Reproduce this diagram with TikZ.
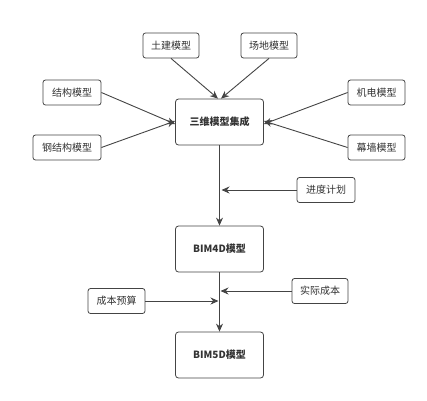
\documentclass[tikz,border=0pt]{standalone}
\usepackage{fontspec}
\setmainfont{Noto Sans CJK SC}
\usepackage{tikz}
\usetikzlibrary{arrows.meta,positioning}
\definecolor{linegray}{HTML}{444444}
\definecolor{textgray}{HTML}{333333}

\tikzset{
  part/.style={draw=linegray, line width=0.8pt, rounded corners=2.5pt, fill=white, text=textgray,
    font=\fontsize{10}{12}\selectfont, minimum height=25pt, inner xsep=5pt},
  stage/.style={draw=linegray, line width=0.8pt, rounded corners=3pt, fill=white, text=textgray,
    font=\fontsize{10}{12}\selectfont\bfseries, minimum width=88pt, minimum height=46pt},
  flow/.style={draw=linegray, line width=0.9pt, -{Stealth[length=8pt,width=7pt]}}
}

\begin{document}
\begin{tikzpicture}[x=1pt,y=-1pt]
    \useasboundingbox (0,0) rectangle (427,400);

    % 主流程
    \node[stage] (S1) at (219.5,122) {三维模型集成};
    \node[stage] (S2) at (219.5,249) {BIM4D模型};
    \node[stage] (S3) at (219.5,355) {BIM5D模型};

    % 各专业模型
    \node[part, minimum width=56pt] (M1) at (171,45.5) {土建模型};
    \node[part, minimum width=56pt] (M2) at (269,45.5) {场地模型};
    \node[part, minimum width=58pt] (M3) at (72,92.5) {结构模型};
    \node[part, minimum width=68pt] (M4) at (67,147.5) {钢结构模型};
    \node[part, minimum width=57pt] (M5) at (376.5,92.5) {机电模型};
    \node[part, minimum width=57pt] (M6) at (376.5,147.5) {幕墙模型};

    % 附加信息
    \node[part, minimum width=58pt] (P1) at (326,190) {进度计划};
    \node[part, minimum width=56pt] (C1) at (320,291) {实际成本};
    \node[part, minimum width=57pt] (C2) at (116.5,301) {成本预算};

    % 汇入点
    \coordinate (J1) at (S1.south |- P1.west);
    \coordinate (J2) at (S2.south |- C1.west);
    \coordinate (J3) at (S2.south |- C2.east);

    \draw[flow] (M1.south) -- ([xshift=-1.5pt]S1.north);
    \draw[flow] (M2.south) -- ([xshift=1.5pt]S1.north);
    \draw[flow] (M3.east) -- ([yshift=-2pt]S1.west);
    \draw[flow] (M4.east) -- ([yshift=1pt]S1.west);
    \draw[flow] (M5.west) -- ([yshift=-2pt]S1.east);
    \draw[flow] (M6.west) -- ([yshift=1pt]S1.east);

    \draw[flow] (S1.south) -- (S2.north);
    \draw[flow] (P1.west) -- ([xshift=2pt]J1);
    \draw[flow] (S2.south) -- (S3.north);
    \draw[flow] (C1.west) -- ([xshift=1pt]J2);
    \draw[flow] (C2.east) -- ([xshift=-1pt]J3);
\end{tikzpicture}
\end{document}
